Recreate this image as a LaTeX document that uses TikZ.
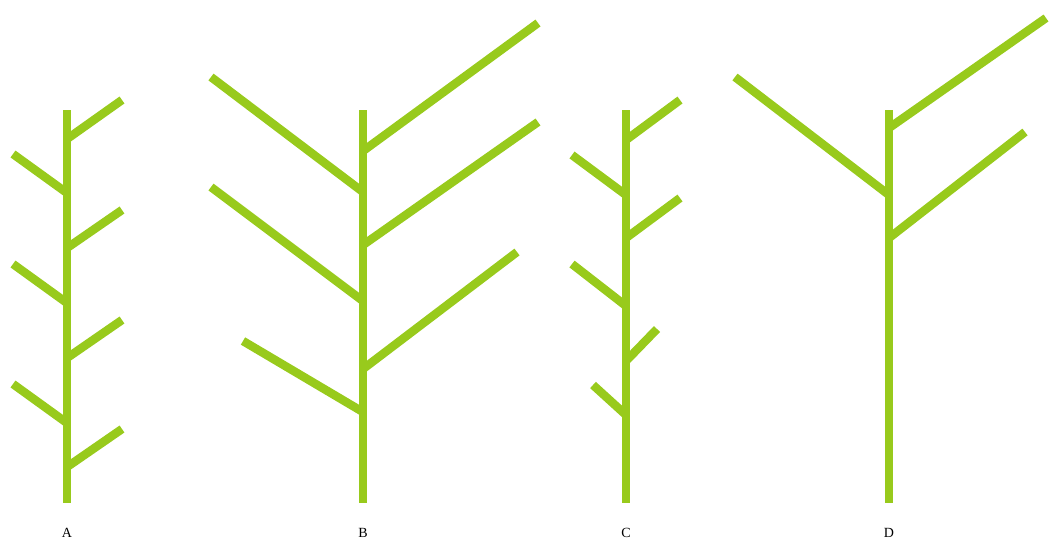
\documentclass[tikz,border=0pt]{standalone}
\usepackage{fontspec}
\setmainfont{Liberation Serif}
\definecolor{leafgreen}{RGB}{152,202,28}

\tikzset{
	stem/.style={draw=leafgreen, line width=8.5pt},
	letter/.style={font=\fontsize{14}{16}\selectfont, inner sep=0pt}
}

\begin{document}
\begin{tikzpicture}[x=1pt, y=-1pt]
	\useasboundingbox (0, 0) rectangle (1049, 542);
	% Stem A:
	\coordinate (aTop) at (67, 110);
	\coordinate (aBot) at (67, 503);
	\draw[stem] (aTop) -- (aBot);
	\coordinate (aR1) at (67, 139); \coordinate (aR1t) at (122, 100);
	\coordinate (aL1) at (67, 193); \coordinate (aL1t) at (13, 154);
	\coordinate (aR2) at (67, 248); \coordinate (aR2t) at (122, 210);
	\coordinate (aL2) at (67, 303); \coordinate (aL2t) at (13, 264);
	\coordinate (aR3) at (67, 358); \coordinate (aR3t) at (122, 320);
	\coordinate (aL3) at (67, 423); \coordinate (aL3t) at (13, 384);
	\coordinate (aR4) at (67, 467); \coordinate (aR4t) at (122, 429);
	\foreach \b in {R1, L1, R2, L2, R3, L3, R4}
		\draw[stem] (a\b) -- (a\b t);
	\node[letter] (labA) at (67, 533) {A};
	% Stem B:
	\coordinate (bTop) at (363, 110);
	\coordinate (bBot) at (363, 503);
	\draw[stem] (bTop) -- (bBot);
	\coordinate (bR1) at (363, 151); \coordinate (bR1t) at (538, 23);
	\coordinate (bL1) at (363, 192); \coordinate (bL1t) at (211, 77);
	\coordinate (bR2) at (363, 245); \coordinate (bR2t) at (538, 122);
	\coordinate (bL2) at (363, 301); \coordinate (bL2t) at (211, 187);
	\coordinate (bR3) at (363, 369); \coordinate (bR3t) at (517, 252);
	\coordinate (bL3) at (363, 412); \coordinate (bL3t) at (243, 341);
	\foreach \b in {R1, L1, R2, L2, R3, L3}
		\draw[stem] (b\b) -- (b\b t);
	\node[letter] (labB) at (363, 533) {B};
	% Stem C:
	\coordinate (cTop) at (626, 110);
	\coordinate (cBot) at (626, 503);
	\draw[stem] (cTop) -- (cBot);
	\coordinate (cR1) at (626, 140); \coordinate (cR1t) at (680, 100);
	\coordinate (cL1) at (626, 195); \coordinate (cL1t) at (572, 155);
	\coordinate (cR2) at (626, 238); \coordinate (cR2t) at (680, 198);
	\coordinate (cL2) at (626, 306); \coordinate (cL2t) at (572, 264);
	\coordinate (cR3) at (626, 361); \coordinate (cR3t) at (657, 329);
	\coordinate (cL3) at (626, 415); \coordinate (cL3t) at (593, 385);
	\foreach \b in {R1, L1, R2, L2, R3, L3}
		\draw[stem] (c\b) -- (c\b t);
	\node[letter] (labC) at (626, 533) {C};
	% Stem D:
	\coordinate (dTop) at (889, 110);
	\coordinate (dBot) at (889, 503);
	\draw[stem] (dTop) -- (dBot);
	\coordinate (dR1) at (889, 128); \coordinate (dR1t) at (1046, 18);
	\coordinate (dL1) at (889, 195); \coordinate (dL1t) at (735, 77);
	\coordinate (dR2) at (889, 238); \coordinate (dR2t) at (1025, 132);
	\foreach \b in {R1, L1, R2}
		\draw[stem] (d\b) -- (d\b t);
	\node[letter] (labD) at (889, 533) {D};
\end{tikzpicture}
\end{document}
